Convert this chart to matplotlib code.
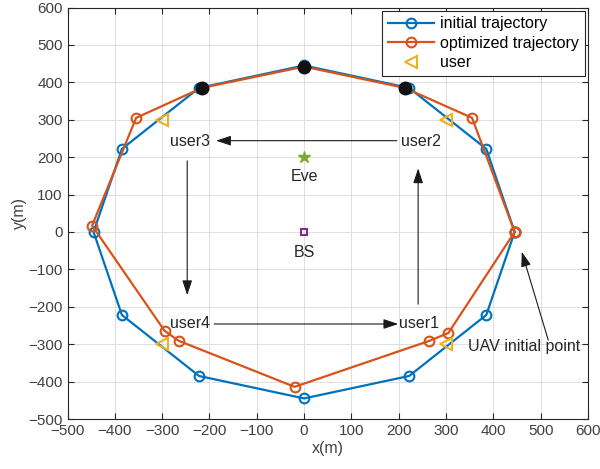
import numpy as np
import matplotlib.pyplot as plt

plt.rcParams['font.family'] = ['Liberation Sans', 'DejaVu Sans']

# initial circular trajectory (radius ~445 m, 12 waypoints)
init_x = [445, 385, 222, 0, -222, -385, -445, -385, -222, 0, 222, 385, 445]
init_y = [0, 222, 385, 445, 385, 222, 0, -222, -385, -445, -385, -222, 0]

# optimized trajectory
opt_x = [445, 355, 213, 0, -216, -355, -448, -295, -265, -20, 265, 305, 445]
opt_y = [0, 305, 385, 442, 385, 305, 17, -264, -291, -414, -291, -270, 0]

# hovering points on the optimized path
hover_x = [213, 0, -216]
hover_y = [385, 442, 385]

user_x = [300, -300, -300, 300]
user_y = [300, 300, -300, -300]
user_names = ['user1', 'user2', 'user3', 'user4']
user_label_xy = [(243, -244), (247, 243), (-241, 243), (-241, -244)]

eve_xy = (0, 200)
bs_xy = (0, 0)

blue = '#0072BD'
orange = '#D95319'
yellow = '#EDB120'
purple = '#7E2F8E'
green = '#77AC30'
axcol = '#262626'
fs = 11.5

fig = plt.figure(figsize=(6, 4.69), dpi=100)
ax = fig.add_axes([0.1125, 0.1066, 0.8675, 0.8774])

ax.plot(init_x, init_y, '-o', color=blue, lw=1.6, ms=7, mfc='none', mew=1.5,
        label='initial trajectory')
ax.plot(opt_x, opt_y, '-o', color=orange, lw=1.6, ms=7, mfc='none', mew=1.5,
        label='optimized trajectory')
ax.plot(user_x, user_y, '<', color=yellow, ms=8, mfc='none', mew=1.5, label='user')
ax.plot(hover_x, hover_y, 'o', color='#111111', ms=9)
ax.plot(*eve_xy, '*', color=green, ms=9)
ax.plot(*bs_xy, 's', color=purple, ms=5, mfc='none', mew=1.5)

ax.text(eve_xy[0], eve_xy[1] - 53, 'Eve', ha='center', va='center', fontsize=fs, color=axcol)
ax.text(bs_xy[0], bs_xy[1] - 54, 'BS', ha='center', va='center', fontsize=fs, color=axcol)

for name, (lx, ly) in zip(user_names, user_label_xy):
    ax.text(lx, ly, name, ha='center', va='center', fontsize=fs, color=axcol)

# flight order arrows between users
arrows = [((196, 244), (-186, 244)),
          ((-247, 190), (-247, -169)),
          ((-190, -246), (199, -246)),
          ((241, -193), (241, 170))]
aprops = dict(arrowstyle='-|>,head_length=0.9,head_width=0.3', color='#1a1a1a',
              lw=0.8, shrinkA=0, shrinkB=0)
for start, end in arrows:
    ax.annotate('', xy=end, xytext=start, arrowprops=aprops)

ax.annotate('', xy=(460, -53), xytext=(516, -289), arrowprops=aprops)
ax.text(346, -305, 'UAV initial point', ha='left', va='center', fontsize=fs, color=axcol)

ax.set_xlim(-500, 600)
ax.set_ylim(-500, 600)
ax.set_xticks(np.arange(-500, 601, 100))
ax.set_yticks(np.arange(-500, 601, 100))
ax.grid(True, color='#dedede', lw=0.7)
ax.set_axisbelow(True)
ax.tick_params(direction='in', length=4, width=0.8, colors=axcol, labelsize=11,
               top=True, right=True, labelcolor='#404040')
for s in ax.spines.values():
    s.set_color(axcol)
    s.set_linewidth(0.8)
ax.set_xlabel('x(m)', fontsize=fs, color='#404040', labelpad=2)
ax.set_ylabel('y(m)', fontsize=fs, color='#404040', labelpad=1)

leg = ax.legend(loc='upper right', fontsize=fs, fancybox=False, framealpha=1,
                edgecolor=axcol, borderaxespad=0.2, handlelength=2.9,
                borderpad=0.35, labelspacing=0.28, handletextpad=0.4)
leg.get_frame().set_linewidth(0.8)

fig.savefig('out.png', dpi=100)
